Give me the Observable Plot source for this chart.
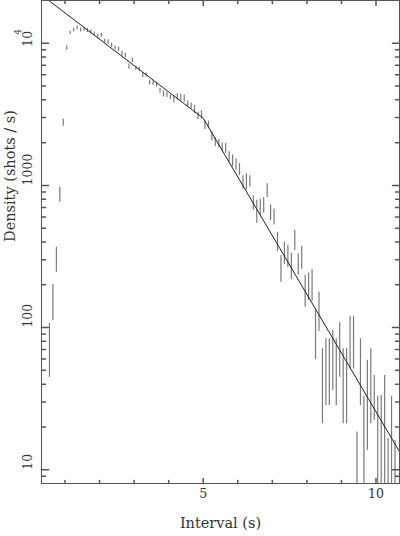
<!DOCTYPE html>
<html><head><meta charset="utf-8">
<script src="https://cdn.jsdelivr.net/npm/d3@7"></script>
<script src="https://cdn.jsdelivr.net/npm/@observablehq/plot@0.6"></script>
<style>html,body{margin:0;padding:0;background:#fff}svg{display:block}</style>
</head><body><div id="chart"></div>
<script>
// interval bins (s)
const binX = [0.55,0.65,0.75,0.85,0.95,1.05,1.15,1.25,1.35,1.45,1.55,1.65,1.75,1.85,1.95,
  2.05,2.15,2.25,2.35,2.45,2.55,2.65,2.75,2.85,2.95,3.05,3.15,3.25,3.35,3.45,3.55,3.65,3.75,3.85,3.95,
  4.05,4.15,4.25,4.35,4.45,4.55,4.65,4.75,4.85,4.95,5.05,5.15,5.25,5.35,5.45,5.55,5.65,5.75,5.85,5.95,
  6.05,6.15,6.25,6.35,6.45,6.55,6.65,6.75,6.85,6.95,7.05,7.15,7.25,7.35,7.45,7.55,7.65,7.75,7.85,7.95,
  8.05,8.15,8.25,8.35,8.45,8.55,8.65,8.75,8.85,8.95,9.05,9.15,9.25,9.35,9.45,9.55,9.65,9.75,9.85,9.95,
  10.05,10.15,10.25,10.35,10.45,10.55];
// lower end of each error bar (shots / s); 1 = bar runs below the plotted range
const densLo = [44.6,112,245,761,2606,8927,11514,12010,12406,12010,12146,11894,11627,11258,10844,
  11021,10000,9790,9372,8971,8785,8141,7881,6561,7317,6457,6322,5736,5791,5087,5038,4926,4426,4190,4149,
  4016,3801,3971,3926,3844,3562,3449,3201,2904,2943,2470,2522,2053,1885,1845,1729,1674,1454,1347,1277,
  1172,943,924,975,668,541,616,636,821,568,526,341,208,278,265,218,349,233,257,139,
  155,153,59.7,94,21.1,28.3,28.3,36.1,28.3,44.8,21.1,21.1,51.4,51.4,1,28.3,1,13.7,21.1,22.2,
  1,1,1,1,1,1];
// upper end of each error bar (shots / s)
const densHi = [107,201,367,970,2919,9572,12146,12816,13236,12816,12962,12690,12406,12010,11570,
  11760,10669,10549,10000,9572,9419,8785,8504,7152,7881,6890,6745,6251,6180,5490,5429,5315,4823,4616,4520,
  4327,4236,4426,4376,4327,3926,3801,3644,3269,3350,2848,2839,2391,2170,2101,1988,1969,1729,1637,1534,
  1423,1172,1211,1172,838,786,802,821,1026,728,682,468,322,398,379,333,483,331,373,233,
  242,256,132,177,71,83.5,83.5,95.6,83.5,108,71,71,120,120,18.4,83.5,32.8,58.8,71,46.1,
  32.8,33.3,46.1,16.6,32.8,16.1];
// broken exponential model (breakpoints)
const fitX = [0.53, 5.0, 10.68];
const fitY = [20000, 2970, 13.4];
// ticks
const xMinorTicks = [1,2,3,4,6,7,8,9];
const xMajorTicks = [5,10];
const xTickLabels = ["5","10"];
const yMajorTicks = [10,100,1000,10000];
const yTickLabels = ["10","100","1000","10"];
const yTickExponents = ["","","","4"];
const yMinorTicks = [9,20,30,40,50,60,70,80,90,200,300,400,500,600,700,800,900,2000,3000,4000,5000,6000,7000,8000,9000];

const bars = binX.map((x,i)=>({x, lo: densLo[i], hi: densHi[i]}));
const fit = fitX.map((x,i)=>({x, y: fitY[i]}));
const yLabels = yMajorTicks.map((y,i)=>({y, text: yTickLabels[i], exp: yTickExponents[i]}));
const tickShape = {draw(ctx, l){ctx.moveTo(0,0); ctx.lineTo(0,-l);}};
const axisColor = "#555";
const font = "'DejaVu Serif', serif";

function ticksX(data, len){
  return [
    Plot.vector(data, {x: d=>d, frameAnchor: "bottom", anchor: "start", rotate: 0, length: len, shape: tickShape, stroke: axisColor}),
    Plot.vector(data, {x: d=>d, frameAnchor: "top", anchor: "start", rotate: 180, length: len, shape: tickShape, stroke: axisColor})
  ];
}
function ticksY(data, len){
  return [
    Plot.vector(data, {y: d=>d, frameAnchor: "left", anchor: "start", rotate: 90, length: len, shape: tickShape, stroke: axisColor}),
    Plot.vector(data, {y: d=>d, frameAnchor: "right", anchor: "start", rotate: -90, length: len, shape: tickShape, stroke: axisColor})
  ];
}

const chart = Plot.plot({
  width: 400, height: 536,
  marginLeft: 41, marginRight: 1, marginTop: 0, marginBottom: 53,
  style: {fontFamily: font, color: "#333", background: "#fff"},
  x: {domain: [0.32, 10.68], axis: null},
  y: {type: "log", domain: [8, 20000], axis: null},
  marks: [
    Plot.ruleX(bars, {x: "x", y1: "lo", y2: "hi", stroke: "#7a7a7a", strokeWidth: 1.2, clip: true}),
    Plot.line(fit, {x: "x", y: "y", stroke: "#222", strokeWidth: 1, clip: true}),
    Plot.frame({stroke: axisColor}),
    ...ticksX(xMinorTicks, 3),
    ...ticksX(xMajorTicks, 5),
    ...ticksY(yMinorTicks, 4),
    ...ticksY(yMajorTicks, 7),
    Plot.text(xMajorTicks, {x: d=>d, text: (d,i)=>xTickLabels[i], frameAnchor: "bottom", dy: 14, fontSize: 12.5, fill: "#333"}),
    Plot.text(yLabels.filter(d=>!d.exp), {y: "y", text: "text", frameAnchor: "left", dx: -14, rotate: -90, fontSize: 12.5, fill: "#333"}),
    Plot.text(yLabels.filter(d=>d.exp), {y: "y", text: "text", frameAnchor: "left", dx: -14, dy: 3.5, rotate: -90, fontSize: 12.5, fill: "#333"}),
    Plot.text(yLabels.filter(d=>d.exp), {y: "y", text: "exp", frameAnchor: "left", dx: -23.5, dy: -8.5, rotate: -90, fontSize: 9, fill: "#333"}),
    Plot.text(["Interval (s)"], {frameAnchor: "bottom", dy: 44, fontSize: 14.5, fill: "#333"}),
    Plot.text(["Density (shots / s)"], {frameAnchor: "left", dx: -31, rotate: -90, fontSize: 14.5, fill: "#333"})
  ]
});
document.getElementById("chart").appendChild(chart);
</script>
</body></html>
